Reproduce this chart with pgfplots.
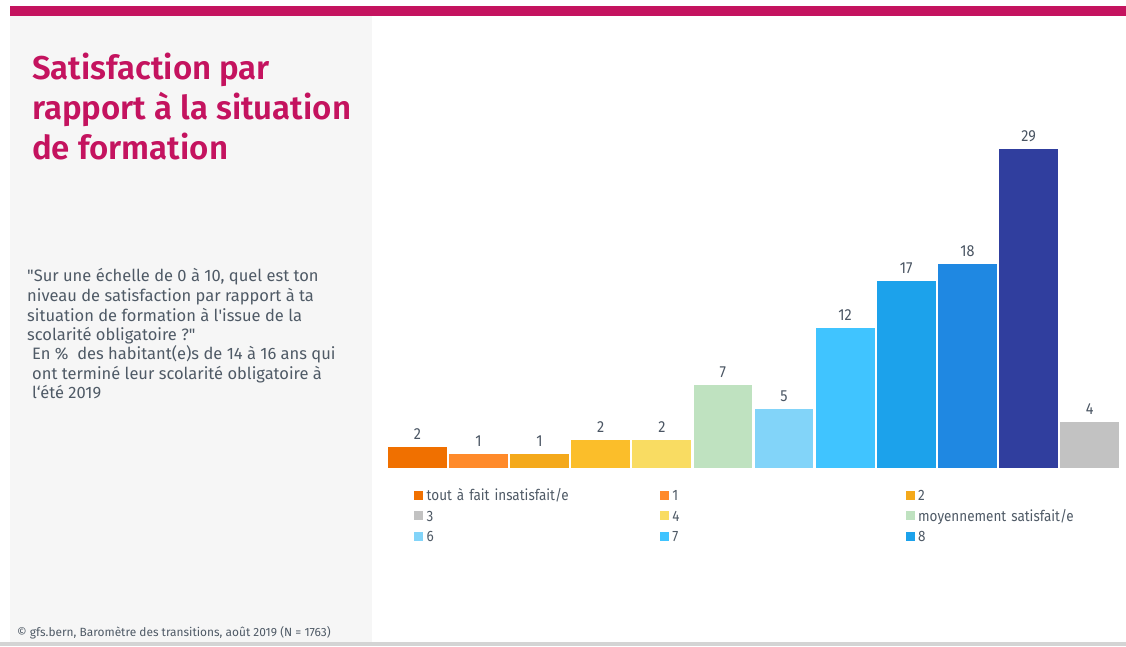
\documentclass[border=0pt]{standalone}
\usepackage{fontspec}
\setmainfont{Fira Sans}[BoldFont={Fira Sans SemiBold}]
\newfontfamily\condfont{Fira Sans}[FakeStretch=0.9]
\usepackage{pgfplots}
\pgfplotsset{compat=1.18}
\definecolor{c0}{HTML}{F07000}
\definecolor{c1}{HTML}{FF8A2A}
\definecolor{c2}{HTML}{F4A91B}
\definecolor{c3}{HTML}{FBBE2A}
\definecolor{c4}{HTML}{F9DC62}
\definecolor{c5}{HTML}{BFE2C0}
\definecolor{c6}{HTML}{82D4F9}
\definecolor{c7}{HTML}{40C4FF}
\definecolor{c8}{HTML}{1CA2EB}
\definecolor{c9}{HTML}{1F88E2}
\definecolor{c10}{HTML}{303E9E}
\definecolor{c11}{HTML}{C2C2C2}
\definecolor{titlec}{HTML}{C4135F}
\definecolor{textc}{HTML}{4F5A66}
\definecolor{labelc}{HTML}{4A5563}
\definecolor{panel}{HTML}{F6F6F6}
\definecolor{strip}{HTML}{D4D4D4}
\begin{document}
\begin{tikzpicture}[x=1pt,y=1pt]
\useasboundingbox (0,0) rectangle (1126,646);
\fill[white] (0,0) rectangle (1126,646);
\fill[panel] (10,4) rectangle (372,630);
\fill[titlec] (10,629.5) rectangle (1126,640);
\fill[strip] (0,0) rectangle (1126,4);
% title
\begin{scope}[every node/.style={anchor=base west, inner sep=0pt, text=titlec, font=\fontsize{33}{40}\selectfont\bfseries}]
\node at (32,566.7) {Satisfaction par};
\node at (32,526.7) {rapport à la situation};
\node at (32,486.7) {de formation};
\end{scope}
\begin{scope}[every node/.style={anchor=base west, inner sep=0pt, text=textc, font=\fontsize{16.5}{19.5}\selectfont}]
\node at (27,364.5) {\textquotedbl Sur une échelle de 0 à 10, quel est ton};
\node at (27,344.5) {niveau de satisfaction par rapport à ta};
\node at (27,325) {situation de formation à l\textquotesingle issue de la};
\node at (27,306) {scolarité obligatoire ?\textquotedbl};
\node at (32,287) {En \%\ \ des habitant(e)s de 14 à 16 ans qui};
\node at (32,267) {ont terminé leur scolarité obligatoire à};
\node at (32,248) {l‘été 2019};
\end{scope}
\node[anchor=base west, inner sep=0pt, text=textc, font=\fontsize{11.9}{12}\selectfont] at (17,10) {© gfs.bern, Baromètre des transitions, août 2019 (N = 1763)};
\begin{axis}[
  at={(386.79pt,178.3pt)}, anchor=south west,
  scale only axis, width=733.4pt, height=318.7pt,
  xmin=-0.5, xmax=11.5, ymin=0, ymax=29,
  axis lines=none, xtick=\empty, ytick=\empty, clip=false,
  ybar, bar width=58.7pt, bar shift=0pt,
  nodes near coords, point meta=explicit symbolic,
  nodes near coords style={anchor=base, yshift=7.5pt, inner sep=0pt, font=\condfont\fontsize{16}{16}\selectfont, text=labelc},
  legend columns=3, legend cell align=left,
  legend style={at={(0.0375,-0.0722)}, anchor=north west, draw=none, fill=none,
    inner sep=0pt, outer sep=0pt, row sep=7.5pt,
    /tikz/every even column/.style={column sep=0pt},
    /tikz/every odd column/.style={column sep=0pt},
    text=textc,
    nodes={inner xsep=4pt, inner ysep=0pt, text width=229.3pt, text height=10pt, text depth=3pt, align=left, font=\condfont\fontsize{15}{15}\selectfont}},
]
\addplot[fill=c0, draw=none, forget plot] coordinates {(0,1.88) [2]};
\addplot[fill=c1, draw=none, forget plot] coordinates {(1,1.25) [1]};
\addplot[fill=c2, draw=none, forget plot] coordinates {(2,1.25) [1]};
\addplot[fill=c3, draw=none, forget plot] coordinates {(3,2.52) [2]};
\addplot[fill=c4, draw=none, forget plot] coordinates {(4,2.52) [2]};
\addplot[fill=c5, draw=none, forget plot] coordinates {(5,7.52) [7]};
\addplot[fill=c6, draw=none, forget plot] coordinates {(6,5.34) [5]};
\addplot[fill=c7, draw=none, forget plot] coordinates {(7,12.71) [12]};
\addplot[fill=c8, draw=none, forget plot] coordinates {(8,16.99) [17]};
\addplot[fill=c9, draw=none, forget plot] coordinates {(9,18.54) [18]};
\addplot[fill=c10, draw=none, forget plot] coordinates {(10,29.0) [29]};
\addplot[fill=c11, draw=none, forget plot] coordinates {(11,4.16) [4]};
\addlegendimage{legend image code/.code={\fill[c0] (0pt,-1.8pt) rectangle (8pt,6.2pt);}}
\addlegendentry{tout à fait insatisfait/e}
\addlegendimage{legend image code/.code={\fill[c1] (0pt,-1.8pt) rectangle (8pt,6.2pt);}}
\addlegendentry{1}
\addlegendimage{legend image code/.code={\fill[c2] (0pt,-1.8pt) rectangle (8pt,6.2pt);}}
\addlegendentry{2}
\addlegendimage{legend image code/.code={\fill[c11] (0pt,-1.8pt) rectangle (8pt,6.2pt);}}
\addlegendentry{3}
\addlegendimage{legend image code/.code={\fill[c4] (0pt,-1.8pt) rectangle (8pt,6.2pt);}}
\addlegendentry{4}
\addlegendimage{legend image code/.code={\fill[c5] (0pt,-1.8pt) rectangle (8pt,6.2pt);}}
\addlegendentry{moyennement satisfait/e}
\addlegendimage{legend image code/.code={\fill[c6] (0pt,-1.8pt) rectangle (8pt,6.2pt);}}
\addlegendentry{6}
\addlegendimage{legend image code/.code={\fill[c7] (0pt,-1.8pt) rectangle (8pt,6.2pt);}}
\addlegendentry{7}
\addlegendimage{legend image code/.code={\fill[c8] (0pt,-1.8pt) rectangle (8pt,6.2pt);}}
\addlegendentry{8}
\end{axis}
\end{tikzpicture}
\end{document}
